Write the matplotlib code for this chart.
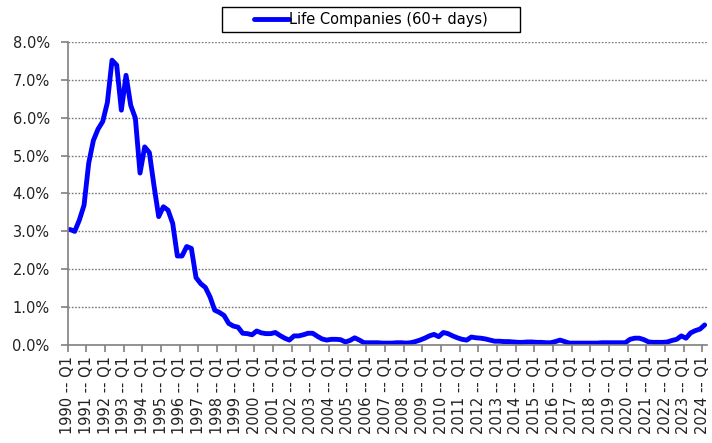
import numpy as np
import matplotlib.pyplot as plt
from matplotlib.patches import Rectangle
from matplotlib.ticker import FuncFormatter

# quarterly delinquency rate (%), 1990 Q1 .. 2024 Q1
years = list(range(1990, 2025))
rate = [
    3.05, 3.00, 3.30, 3.69, 4.80, 5.40, 5.70, 5.90, 6.40, 7.52,
    7.39, 6.20, 7.12, 6.33, 5.99, 4.54, 5.23, 5.08, 4.20, 3.39,
    3.65, 3.56, 3.21, 2.35, 2.35, 2.60, 2.55, 1.78, 1.62, 1.52,
    1.27, 0.92, 0.86, 0.78, 0.57, 0.50, 0.47, 0.31, 0.30, 0.27,
    0.37, 0.32, 0.30, 0.30, 0.33, 0.25, 0.18, 0.13, 0.24, 0.24,
    0.27, 0.31, 0.31, 0.23, 0.16, 0.13, 0.15, 0.15, 0.14, 0.08,
    0.12, 0.19, 0.13, 0.06, 0.06, 0.06, 0.06, 0.05, 0.05, 0.05,
    0.06, 0.06, 0.05, 0.06, 0.09, 0.13, 0.18, 0.24, 0.28, 0.22,
    0.33, 0.30, 0.24, 0.19, 0.15, 0.13, 0.21, 0.19, 0.18, 0.16,
    0.13, 0.10, 0.10, 0.09, 0.09, 0.08, 0.07, 0.07, 0.08, 0.08,
    0.07, 0.07, 0.06, 0.06, 0.09, 0.13, 0.09, 0.05, 0.05, 0.05,
    0.05, 0.05, 0.05, 0.05, 0.06, 0.06, 0.06, 0.06, 0.06, 0.06,
    0.15, 0.18, 0.18, 0.14, 0.08, 0.07, 0.07, 0.07, 0.08, 0.12,
    0.15, 0.24, 0.18, 0.32, 0.38, 0.42, 0.53,
]
series_name = "Life Companies (60+ days)"

plt.rcParams['font.family'] = ['DejaVu Sans']

fig = plt.figure(figsize=(7.12, 4.43), dpi=100)
ax = fig.add_axes([67.7/712, 1-345/443, (707-67.7)/712, (345-42)/443])

n = len(rate)
x = np.arange(n) + 0.5
ax.plot(x, rate, color="#0000ff", lw=3.5, solid_joinstyle="round",
        solid_capstyle="round", label=series_name)

ax.set_xlim(0, n)
ax.set_ylim(0, 8)
ax.set_yticks(np.arange(0, 9, 1))
ax.yaxis.set_major_formatter(FuncFormatter(lambda v, p: f"{v:.1f}%"))
ax.set_xticks(np.arange(0, n, 4))
ax.set_xticklabels([f"{y} -- Q1" for y in years], rotation=90)

ax.grid(axis="y", color="#777777", ls=(0, (1.2, 1.2)), lw=1.0)
ax.set_axisbelow(True)
for s in ("top", "right"):
    ax.spines[s].set_visible(False)
for s in ("left", "bottom"):
    ax.spines[s].set_color("#808080")
    ax.spines[s].set_linewidth(1.2)
ax.tick_params(axis="both", direction="out", length=5, width=1.2,
               color="#808080", labelcolor="#222222")
ax.tick_params(axis="y", labelsize=10.5, pad=8)
ax.tick_params(axis="x", labelsize=10.5, pad=3)

# legend box (wider than its content, like the original)
fig.patches.append(Rectangle((222/712, 1-32/443), (520-222)/712, 25/443,
                             transform=fig.transFigure, fill=False,
                             edgecolor="black", lw=1.0))
leg = ax.legend(loc="center", bbox_to_anchor=(371/712, 1-19.5/443),
                bbox_transform=fig.transFigure, frameon=False,
                fontsize=10.5, handlelength=2.4, handletextpad=0.0)

fig.savefig("out.png", dpi=100)
